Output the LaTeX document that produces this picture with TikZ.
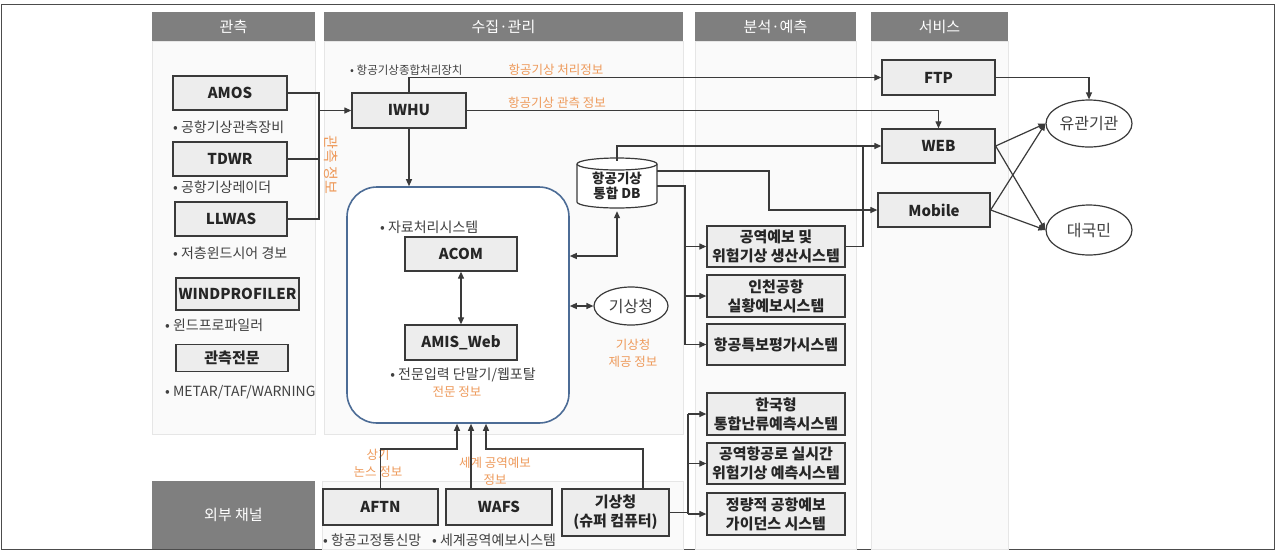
\documentclass[tikz,border=0pt]{standalone}
\usepackage{fontspec}
\setmainfont{Noto Sans CJK KR}
\usetikzlibrary{arrows.meta,shapes.geometric,calc}
\definecolor{hdr}{HTML}{7F7F7F}
\definecolor{orng}{HTML}{EE9A5B}
\definecolor{lnc}{HTML}{3A3A3A}
\definecolor{boxf}{HTML}{EDEDED}
\definecolor{bluel}{HTML}{4C6C96}
\definecolor{panf}{HTML}{FAFAFA}
\definecolor{pand}{HTML}{E6E6E6}
\definecolor{txt}{HTML}{262626}
\definecolor{btxt}{HTML}{404040}
\newcommand{\fsz}[2]{\fontsize{#1}{#2}\selectfont}
\begin{document}
\begin{tikzpicture}[x=1pt,y=-1pt,
  hdrbox/.style={fill=hdr, draw=none, text=white, font=\fsz{15}{18}, minimum height=29pt, inner sep=0},
  panel/.style={fill=panf, draw=pand, line width=0.8pt},
  bx/.style={draw=lnc, line width=1.3pt, fill=boxf, text=txt, font=\bfseries\fsz{15}{18}, inner sep=0, align=center},
  kbx/.style={bx, font=\bfseries\fsz{15}{19}},
  bul/.style={text=btxt, font=\fsz{14}{16}, anchor=west, inner sep=0},
  org/.style={text=orng, font=\fsz{12.5}{17}, align=center, inner sep=0},
  ln/.style={draw=lnc, line width=1.2pt},
  arr/.style={ln, -{Triangle[length=7pt,width=6pt]}},
  darr/.style={ln, {Triangle[length=7pt,width=6pt]}-{Triangle[length=7pt,width=6pt]}},
  ell/.style={ellipse, draw=lnc, line width=1.2pt, fill=white, text=btxt, font=\fsz{16}{18}, inner sep=0}
]
\useasboundingbox (0,0) rectangle (1276,550);
\fill[white] (0,0) rectangle (1276,550);
\draw[black!70, line width=0.8pt] (1,4) rectangle (1274,549);

% panels
\draw[panel] (152,41) rectangle (315,434);
\draw[panel] (324,41) rectangle (683,434);
\draw[panel] (322,481) rectangle (683,549);
\draw[panel] (695,41) rectangle (856,549);
\draw[panel] (871,41) rectangle (1008,549);

% headers
\node[hdrbox, minimum width=163pt] (h1) at (233.5,26.5) {관측};
\node[hdrbox, minimum width=359pt] (h2) at (503.5,26.5) {수집·관리};
\node[hdrbox, minimum width=161pt] (h3) at (775.5,26.5) {분석·예측};
\node[hdrbox, minimum width=137pt] (h4) at (939.5,26.5) {서비스};
\node[hdrbox, minimum width=163pt, minimum height=68pt] (ext) at (233.5,515) {외부 채널};

% observation column
\node[bx, minimum width=114pt, minimum height=34pt] (amos) at (230,93) {AMOS};
\node[bx, minimum width=114pt, minimum height=34pt] (tdwr) at (230,159) {TDWR};
\node[bx, minimum width=112pt, minimum height=34pt] (llwas) at (231,219) {LLWAS};
\node[bx, minimum width=123pt, minimum height=32pt] (wind) at (237.5,294) {WINDPROFILER};
\node[kbx, minimum width=112pt, minimum height=27pt] (obs) at (232,358) {관측전문};
\node[bul] (lamos) at (173,127) {• 공항기상관측장비};
\node[bul] (ltdwr) at (173,187) {• 공항기상레이더};
\node[bul] (lllwas) at (173,253) {• 저층윈드시어 경보};
\node[bul] (lwind) at (165,325) {• 윈드프로파일러};
\node[bul] (lobs) at (165,392) {• METAR/TAF/WARNING};

% collection column
\node[bx, minimum width=114pt, minimum height=35pt] (iwhu) at (409,110.5) {IWHU};
\node[bul, font=\fsz{11.5}{14}] (liwhu) at (350,70) {• 항공기상종합처리장치};
\node[draw=bluel, line width=1.6pt, rounded corners=30pt, fill=white, minimum width=222pt, minimum height=236pt, inner sep=0] (big) at (458,305) {};
\node[bul] (lacom) at (380,227) {• 자료처리시스템};
\node[bx, minimum width=112pt, minimum height=34pt] (acom) at (461,254) {ACOM};
\node[bx, minimum width=112pt, minimum height=35pt] (amis) at (461,342.5) {AMIS\_Web};
\node[bul, anchor=center] (lamis) at (463,375) {• 전문입력 단말기/웹포탈};
\node[org] (oamis) at (457,392) {전문 정보};

% DB cylinder
\draw[draw=lnc, line width=1.2pt, fill=white] (577,164) -- (577,202)
  arc[start angle=180, end angle=0, x radius=40, y radius=6] -- (657,164)
  arc[start angle=0, end angle=-180, x radius=40, y radius=6] -- cycle;
\draw[draw=lnc, line width=1.2pt] (577,164) arc[start angle=180, end angle=0, x radius=40, y radius=6];
\node[font=\bfseries\fsz{13.5}{15}, text=txt, align=center, minimum width=80pt, minimum height=50pt, inner sep=0] (db) at (617,186) {항공기상\\통합 DB};

\node[ell, minimum width=74pt, minimum height=38pt] (kma) at (631,306) {기상청};
\node[org] (okma) at (633,353) {기상청\\제공 정보};

% analysis column
\node[kbx, minimum width=138pt, minimum height=41pt] (a1) at (776,246.5) {공역예보 및\\위험기상 생산시스템};
\node[kbx, minimum width=138pt, minimum height=42pt] (a2) at (776,296) {인천공항\\실황예보시스템};
\node[kbx, minimum width=138pt, minimum height=41pt] (a3) at (776,344.5) {항공특보평가시스템};
\node[kbx, minimum width=138pt, minimum height=42pt] (a4) at (776,414) {한국형\\통합난류예측시스템};
\node[kbx, minimum width=138pt, minimum height=41pt] (a5) at (776,463.5) {공역항공로 실시간\\위험기상 예측시스템};
\node[kbx, minimum width=138pt, minimum height=42pt] (a6) at (776,514) {정량적 공항예보\\가이던스 시스템};

% service column
\node[bx, minimum width=113pt, minimum height=35pt] (ftp) at (938.5,77.5) {FTP};
\node[bx, minimum width=113pt, minimum height=34pt] (web) at (938.5,146) {WEB};
\node[bx, minimum width=112pt, minimum height=34pt] (mobile) at (934,210) {Mobile};
\node[ell, minimum width=86pt, minimum height=47pt] (yg) at (1089,123.5) {유관기관};
\node[ell, minimum width=86pt, minimum height=50pt] (dk) at (1089,230) {대국민};

% external channels
\node[bx, minimum width=115pt, minimum height=36pt] (aftn) at (380.5,507) {AFTN};
\node[bx, minimum width=106pt, minimum height=36pt] (wafs) at (499,507) {WAFS};
\node[kbx, minimum width=107pt, minimum height=47pt] (kmasc) at (615.5,512.5) {기상청\\(슈퍼 컴퓨터)};
\node[bul] (laftn) at (323,540) {• 항공고정통신망};
\node[bul] (lwafs) at (432,540) {• 세계공역예보시스템};

% orange labels
\node[org] (o1) at (556,70) {항공기상 처리정보};
\node[org] (o2) at (557,103) {항공기상 관측 정보};
\node[org, rotate=-90, font=\fsz{15}{17}] (o3) at (331,165) {관측 정보};
\node[org] (o4) at (378,463) {상기\\논스 정보};
\node[org] (o5) at (495,471) {세계 공역예보\\정보};

% helper coordinates
\coordinate (bus) at (319,0);
\coordinate (dbrow) at (0,256);
\coordinate (mx) at (769,0);
\coordinate (ab) at (685,0);
\coordinate (jx) at (863,0);
\coordinate (bx) at (688,0);
\coordinate (c1) at (457,449);
\coordinate (c2) at (471,0);
\coordinate (c3) at (486,449);
\coordinate (c3b) at (643,0);

% observation to IWHU
\draw[ln] (amos.east) -| (bus |- llwas.east) -- (llwas.east);
\draw[ln] (tdwr.east) -- (bus |- tdwr.east);
\draw[arr] (bus |- iwhu.west) -- (iwhu.west);

% IWHU outputs
\draw[arr] (iwhu.north) |- (ftp.west);
\draw[arr] (iwhu.east) -| (web.north);
\draw[arr] (iwhu.south) -- (iwhu.south |- big.north);

% inside
\draw[darr] (acom.south) -- (amis.north);
\draw[darr] (db.south) |- (big.east |- dbrow);
\draw[darr] (big.east |- kma.west) -- (kma.west);

% DB outputs
\draw[arr] (db.north) |- (web.west);
\draw[arr] ($(db.east)+(0,-15)$) -| (mx |- mobile.west) -- (mobile.west);
\draw[ln] (db.east) -| (ab |- a3.west);
\draw[arr] (ab |- a1.west) -- (a1.west);
\draw[arr] (ab |- a2.west) -- (a2.west);
\draw[arr] (ab |- a3.west) -- (a3.west);
\draw[ln] (a1.east) -| (jx |- web.west);

% super computer to analysis
\draw[ln] (kmasc.east) -- (bx |- kmasc.east);
\draw[ln] (bx |- a4.west) -- (bx |- a6.west);
\draw[arr] (bx |- a4.west) -- (a4.west);
\draw[arr] (bx |- a5.west) -- (a5.west);
\draw[arr] (bx |- a6.west) -- (a6.west);

% external to big box
\draw[arr] (aftn.north) |- (c1) -- (c1 |- big.south);
\draw[arr] (c2 |- wafs.north) -- (c2 |- big.south);
\draw[arr] (c3b |- kmasc.north) |- (c3) -- (c3 |- big.south);

% services
\draw[arr] (ftp.east) -| (yg.north);
\draw[arr] (web.east) -- (yg.west);
\draw[arr] (web.east) -- (dk.west);
\draw[arr] (mobile.east) -- (yg.west);
\draw[arr] (mobile.east) -- (dk.west);
\end{tikzpicture}
\end{document}
